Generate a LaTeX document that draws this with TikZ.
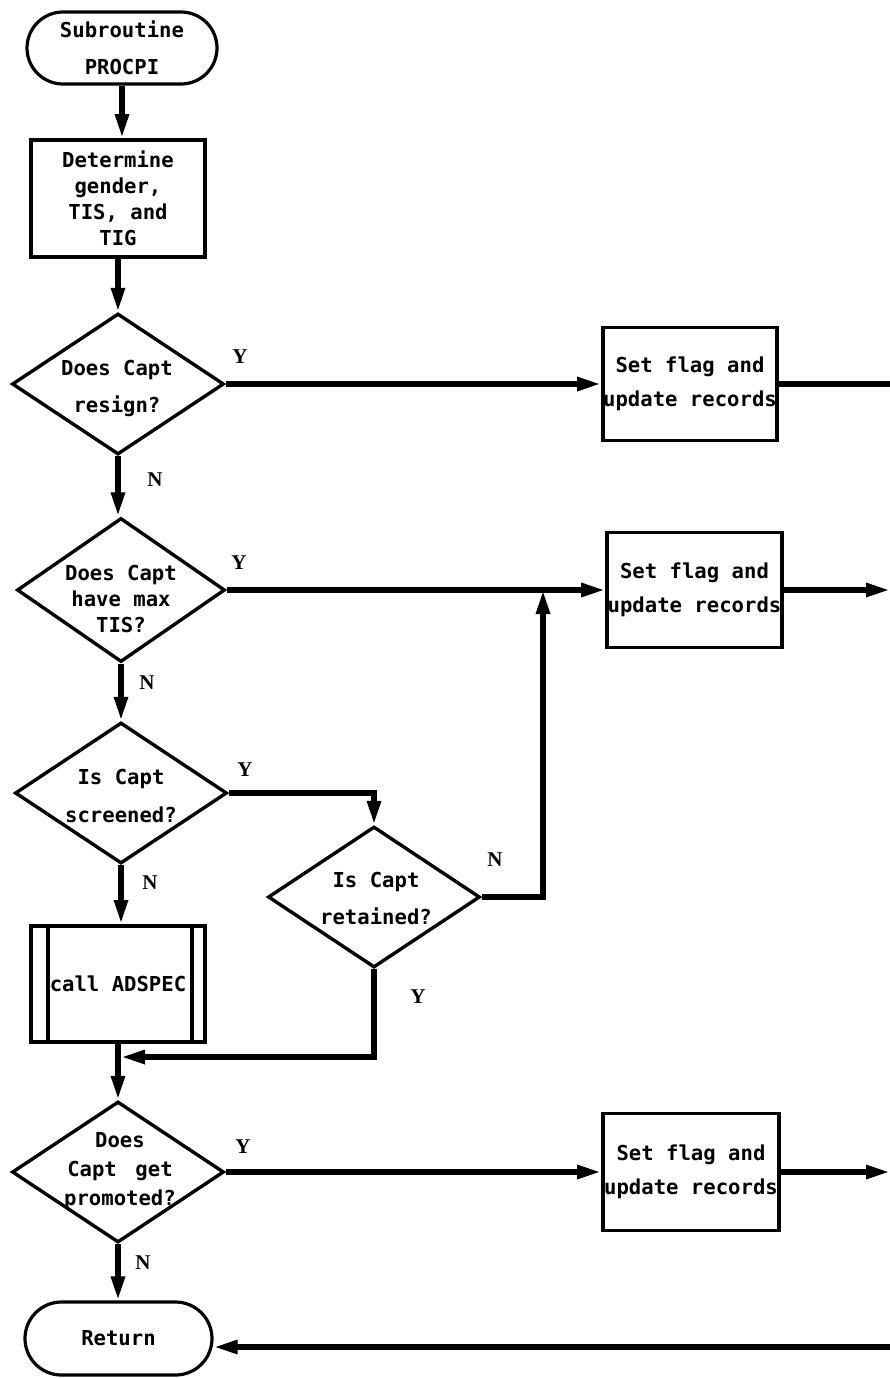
\documentclass[tikz,border=0pt]{standalone}
\usepackage{fontspec}
\usetikzlibrary{shapes.geometric,arrows.meta,calc}
\newfontfamily\flowfont{DejaVu Sans Mono}
\newfontfamily\markfont{Liberation Serif}
\begin{document}
\begin{tikzpicture}[x=0.5pt,y=-0.5pt,
  txt/.style={font=\flowfont\bfseries\fontsize{10.3}{13}\selectfont, align=center, inner sep=0pt},
  branchmark/.style={font=\markfont\bfseries\fontsize{10.5}{12}\selectfont, inner sep=0pt},
  terminal/.style={draw, line width=1.6pt, rounded corners=18pt, minimum width=95pt, minimum height=36pt, txt},
  procbox/.style={draw, line width=1.9pt, minimum width=87pt, minimum height=58pt, txt},
  decision/.style={draw, diamond, line width=1.7pt, minimum width=106pt, minimum height=70.5pt, inner sep=0pt},
  flow/.style={line width=2.8pt, -{Triangle[length=12pt,width=6.5pt]}},
  plain/.style={line width=2.8pt},
  subline/.style={line width=1.8pt}]
\useasboundingbox (0,0) rectangle (890,1378);
\coordinate (rim) at (890,0);

% main column
\node[terminal] (start) at (122,48) {Subroutine\\[5.5pt]PROCPI};
\node[procbox, minimum height=58.5pt] (det) at (118,198.5) {Determine\\gender,\\TIS, and\\TIG};
\node[decision] (d1) at (118,384) {};
\node[txt] (d1t) at (117,388) {Does Capt\\[5.5pt]resign?};
\node[decision, minimum width=104pt, minimum height=72pt] (d2) at (121,590) {};
\node[txt] (d2t) at (121,599) {Does Capt\\have max\\TIS?};
\node[decision] (d3) at (121,793) {};
\node[txt] (d3t) at (121,796) {Is Capt\\[6pt]screened?};
\node[procbox, line width=2pt] (call) at (118,984) {call ADSPEC};
\node[decision] (d5) at (118,1172) {};
\node[txt] (d5t) at (120,1171) {Does\\[1.5pt]Capt\hspace{9.3pt}get\\[1.5pt]promoted?};
\node[terminal, minimum width=93.5pt, minimum height=36.5pt, rounded corners=18.25pt] (ret) at (118.5,1338.5) {Return};

% side branch
\node[decision] (d4) at (374,897) {};
\node[txt] (d4t) at (376,898) {Is Capt\\[5.5pt]retained?};

% action boxes
\node[procbox, minimum height=56.5pt] (sf1) at (690,384) {Set flag and\\[4pt]update records};
\node[procbox, minimum width=87.5pt, minimum height=57.5pt] (sf2) at (694.5,590) {Set flag and\\[4pt]update records};
\node[procbox, minimum width=88pt, minimum height=58.5pt] (sf3) at (691,1172) {Set flag and\\[4pt]update records};

% subroutine side bars
\draw[subline] ($(call.north west)+(19,0)$) -- ($(call.south west)+(19,0)$);
\draw[subline] ($(call.north east)+(-15,0)$) -- ($(call.south east)+(-15,0)$);

% junction points
\coordinate (j1) at (543,590);
\coordinate (m1) at (121,1057);
\coordinate (r1) at (890,1347);

% connectors
\draw[flow] (start.south) -- (start.south |- det.north);
\draw[flow] (det.south -| d1.north) -- (d1.north);
\draw[flow] (d1.east) -- (sf1.west);
\draw[plain] (sf1.east) -- (sf1.east -| rim);
\draw[flow] (d1.south) -- (d1.south |- d2.north);
\draw[flow] (d2.east) -- (sf2.west);
\draw[flow] (sf2.east) -- (sf2.east -| rim);
\draw[flow] (d2.south) -- (d2.south |- d3.north);
\draw[flow] (d3.east) -| (d4.north);
\draw[flow] (d4.east) -| (j1);
\draw[flow] (d3.south) -- (d3.south |- call.north);
\draw[flow] (d4.south) |- (m1);
\draw[flow] (call.south -| d5.north) -- (d5.north);
\draw[flow] (d5.east) -- (sf3.west);
\draw[flow] (sf3.east) -- (sf3.east -| rim);
\draw[flow] (d5.south) -- (d5.south |- ret.north);
\draw[flow] (r1) -- (r1 -| ret.east);

% branch labels
\node[branchmark] (y1) at (240,357) {Y};
\node[branchmark] (n1) at (155,480) {N};
\node[branchmark] (y2) at (239,563) {Y};
\node[branchmark] (n2) at (147,683) {N};
\node[branchmark] (y3) at (245,770) {Y};
\node[branchmark] (n3) at (150,883) {N};
\node[branchmark] (n4) at (495,860) {N};
\node[branchmark] (y4) at (418,997) {Y};
\node[branchmark] (y5) at (243,1147) {Y};
\node[branchmark] (n5) at (143,1263) {N};
\end{tikzpicture}
\end{document}
